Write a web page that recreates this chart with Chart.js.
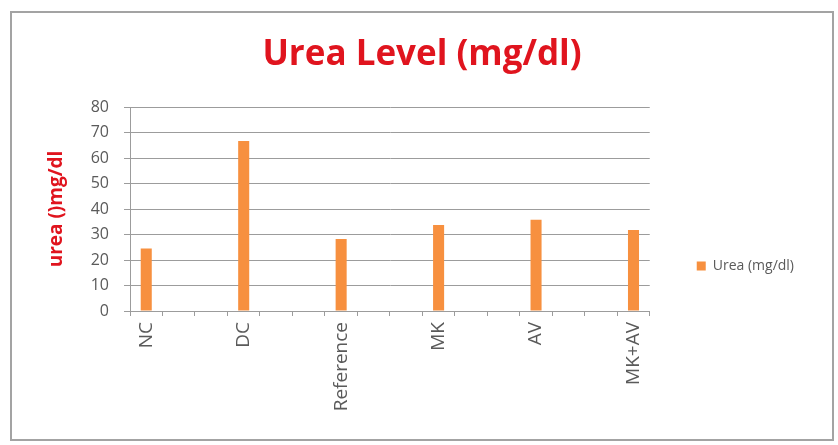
<!DOCTYPE html>
<html>
<head>
<meta charset="utf-8">
<script src="https://cdn.jsdelivr.net/npm/chart.js@4"></script>
<style>
  html, body { margin: 0; padding: 0; background: #ffffff; }
  #frame {
    position: absolute; left: 10px; top: 11px;
    width: 824px; height: 430px;
    box-sizing: border-box;
    border: 2px solid #a3a3a3;
    background: #ffffff;
  }
  #frame canvas { display: block; }
</style>
</head>
<body>
<div id="frame"><canvas id="chart"></canvas></div>
<script>
// Treatment groups and measured serum urea (mg/dl)
const groups = ['NC', 'DC', 'Reference', 'MK', 'AV', 'MK+AV'];
const urea = [24.5, 66.7, 28.2, 33.7, 35.8, 31.8];
const yTicks = [0, 10, 20, 30, 40, 50, 60, 70, 80];

// Each group occupies three category slots on the axis; only the first slot holds the bar
const slotsPerGroup = 3;
const labels = [];
const values = [];
groups.forEach((g, i) => {
  const n = (i === groups.length - 1) ? 1 : slotsPerGroup;
  for (let k = 0; k < n; k++) {
    labels.push(k === 0 ? g : '');
    values.push(k === 0 ? urea[i] : null);
  }
});

const axisGrey = '#9c9c9c';
const textGrey = '#5a5a5a';
const red = '#e0141e';

new Chart(document.getElementById('chart'), {
  type: 'bar',
  data: {
    labels: labels,
    datasets: [{
      label: 'Urea (mg/dl)',
      data: values,
      backgroundColor: '#f7903f',
      borderWidth: 0,
      barPercentage: 0.34,
      categoryPercentage: 1.0
    }]
  },
  options: {
    responsive: true,
    maintainAspectRatio: false,
    animation: false,
    layout: { padding: { left: 28, right: 28, top: 0, bottom: 0 } },
    plugins: {
      title: {
        display: true,
        text: 'Urea Level (mg/dl)',
        color: red,
        font: { family: 'Open Sans', size: 35, weight: 'bold' },
        padding: { top: 21, bottom: 31 }
      },
      legend: {
        position: 'right',
        fullSize: false,
        title: {
          display: true,
          text: ' ',
          font: { size: 10 },
          padding: { top: 51, bottom: 51 }
        },
        labels: {
          boxWidth: 9,
          boxHeight: 9,
          padding: 47,
          color: textGrey,
          font: { family: 'Open Sans', size: 14 }
        }
      },
      tooltip: { enabled: false }
    },
    scales: {
      x: {
        offset: true,
        grid: {
          display: true,
          drawOnChartArea: false,
          drawTicks: true,
          tickLength: 5,
          color: axisGrey,
          offset: true
        },
        border: { color: axisGrey, width: 1 },
        ticks: {
          autoSkip: false,
          minRotation: 90,
          maxRotation: 90,
          padding: 6,
          color: textGrey,
          font: { family: 'Open Sans', size: 19 }
        },
        afterFit: (scale) => { scale.height = 128; }
      },
      y: {
        min: yTicks[0],
        max: yTicks[yTicks.length - 1],
        afterBuildTicks: (scale) => { scale.ticks = yTicks.map(v => ({ value: v })); },
        grid: {
          color: axisGrey,
          lineWidth: 1,
          tickLength: 6
        },
        border: { color: axisGrey, width: 1 },
        ticks: {
          padding: 15,
          color: textGrey,
          font: { family: 'Open Sans', size: 16 }
        },
        title: {
          display: true,
          text: 'urea ()mg/dl',
          color: red,
          font: { family: 'Open Sans', size: 19, weight: 'bold' },
          padding: { top: 5, bottom: 0 }
        },
        afterFit: (scale) => { scale.width = 90; }
      }
    }
  }
});
</script>
</body>
</html>
